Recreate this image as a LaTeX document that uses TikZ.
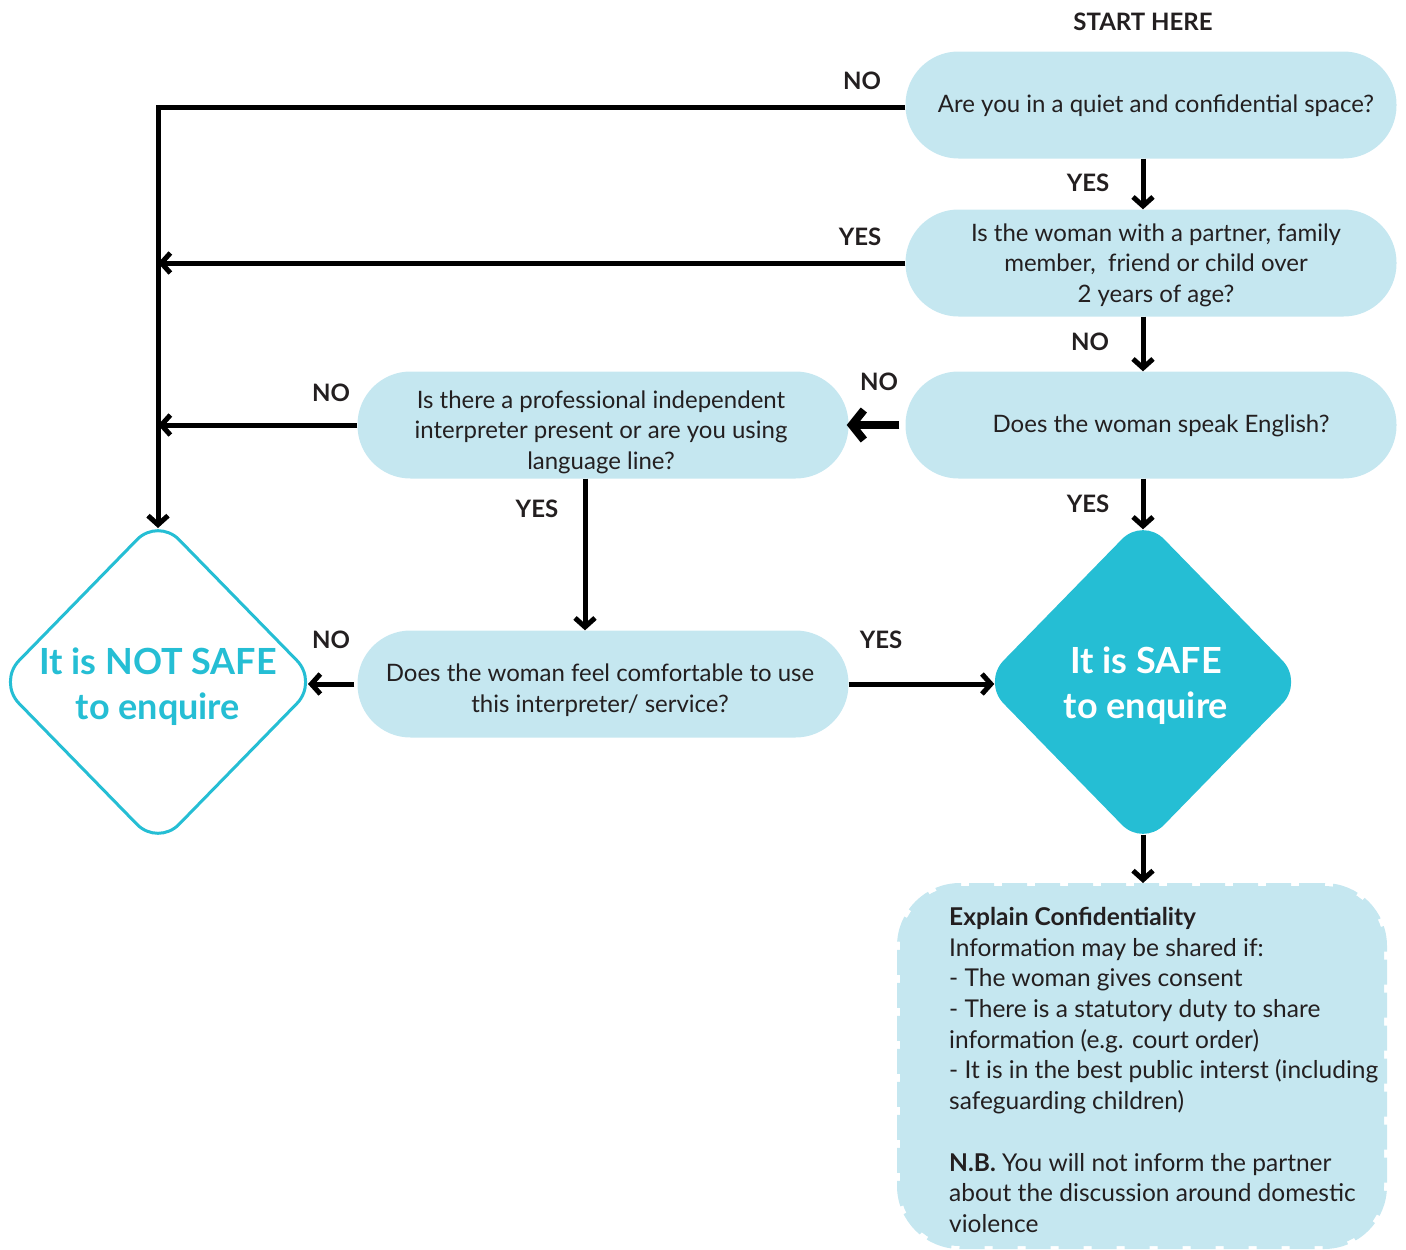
\documentclass[tikz,border=0pt]{standalone}
\usepackage{fontspec}
\setmainfont{Lato}
\usetikzlibrary{shapes.geometric,arrows.meta,calc}
\definecolor{boxblue}{HTML}{C5E7F0}
\definecolor{cyanc}{HTML}{25BED4}
\definecolor{txt}{HTML}{231F20}
\begin{document}
\begin{tikzpicture}[x=1pt,y=-1pt,
  pill/.style={rectangle, rounded corners=53pt, fill=boxblue, minimum width=491pt, minimum height=107pt, inner sep=0pt},
  pilltext/.style={align=center, font=\fontsize{24}{30.5}\selectfont, text=txt, inner sep=0pt},
  lbl/.style={font=\bfseries\fontsize{24}{26}\selectfont, text=txt, inner sep=0pt},
  arr/.style={line width=5pt, -{Straight Barb[length=9pt,width=20pt]}},
  thickarr/.style={line width=8pt, -{Straight Barb[length=12pt,width=30pt]}},
  dia/.style={diamond, minimum width=321pt, minimum height=329pt, inner sep=0pt, rounded corners=30pt},
  diatext/.style={font=\bfseries\fontsize{36}{45}\selectfont, align=center, inner sep=0pt},
]
\useasboundingbox (0,0) rectangle (1406,1250);

% boxes
\node[pill] (b1) at (1151,105) {};
\node[pilltext] (t1) at (1156,106) {Are you in a quiet and confidential space?};
\node[pill] (b2) at (1151,263) {};
\node[pilltext] (t2) at (1156,265) {Is the woman with a partner, family\\member,\ \ friend or child over\\2 years of age?};
\node[pill] (b3) at (1151,425) {};
\node[pilltext] (t3) at (1161,426) {Does the woman speak English?};
\node[pill] (b4) at (603,425) {};
\node[pilltext] (t4) at (601,432) {Is there a professional independent\\interpreter present or are you using\\language line?};
\node[pill] (b5) at (603,684) {};
\node[pilltext] (t5) at (600,690) {Does the woman feel comfortable to use\\this interpreter/ service?};

% diamonds
\node[dia, draw=cyanc, line width=3pt, fill=white] (ns) at (158,682) {};
\node[diatext, text=cyanc] at ([yshift=-5pt]ns.center) {It is NOT SAFE\\to enquire};
\node[dia, fill=cyanc] (safe) at (1143,682) {};
\node[diatext, text=white] at ([xshift=3pt,yshift=-4pt]safe.center) {It is SAFE\\to enquire};

% confidentiality box
\node[rectangle, rounded corners=60pt, fill=boxblue, draw=boxblue, line width=6pt, dash pattern=on 25pt off 8pt, minimum width=484pt, minimum height=360pt] (b6) at (1142,1066) {};
\node[anchor=north west, align=left, text=txt, font=\fontsize{24.5}{30.7}\selectfont, inner sep=0pt] (b6t) at (949,907)
{\textbf{Explain Confidentiality}\\
Information may be shared if:\\
- The woman gives consent\\
- There is a statutory duty to share\\
information (e.g. court order)\\
- It is in the best public interst (including\\
safeguarding children)\\[30.7pt]
\textbf{N.B.} You will not inform the partner\\
about the discussion around domestic\\
violence};

% labels
\node[lbl] (start) at (1143,22) {START HERE};
\node[lbl] (l1) at (862,81) {NO};
\node[lbl] (l2) at (1088,183) {YES};
\node[lbl] (l3) at (860,237) {YES};
\node[lbl] (l4) at (1090,342) {NO};
\node[lbl] (l5) at (879,382) {NO};
\node[lbl] (l6) at (331,393) {NO};
\node[lbl] (l7) at (1088,504) {YES};
\node[lbl] (l8) at (537,509) {YES};
\node[lbl] (l9) at (331,640) {NO};
\node[lbl] (l10) at (881,640) {YES};

% connectors
\coordinate (nstop) at ($(ns.north)+(0,12)$);
\coordinate (nsright) at ($(ns.east)+(-12,0)$);
\coordinate (safetop) at ($(safe.north)+(0,12)$);
\coordinate (safeleft) at ($(safe.west)+(12,0)$);
\coordinate (safebot) at ($(safe.south)+(0,-12)$);

\draw[arr] (b1.south -| safe.north) -- (b2.north -| safe.north);
\draw[arr] (b2.south -| safe.north) -- (b3.north -| safe.north);
\draw[arr] (b3.south -| safe.north) -- (safetop);
\draw[thickarr] ([xshift=-6pt]b3.west) -- ([xshift=-2pt]b4.east);
\draw[arr] (b4.west) -- (b4.west -| ns.north);
\draw[arr] (b2.west) -- (b2.west -| ns.north);
\draw[arr, line join=miter] ([yshift=-2pt]b1.west) -- ([yshift=-2pt]b1.west -| ns.north) -- (nstop);
\draw[arr] ([xshift=-18pt]b4.south) -- ([xshift=-18pt]b5.north);
\draw[arr] ([xshift=-3pt]b5.west) -- (nsright |- b5.west);
\draw[arr] (b5.east) -- (safeleft |- b5.east);
\draw[arr] (safebot) -- (b6.north -| safebot);
\end{tikzpicture}
\end{document}
